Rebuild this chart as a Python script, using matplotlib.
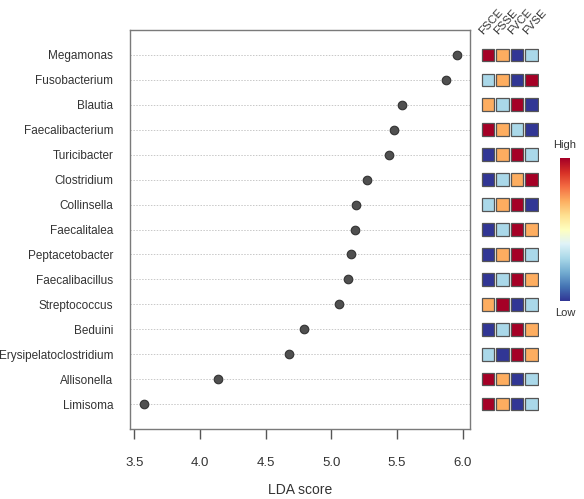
import numpy as np
import matplotlib
matplotlib.use("Agg")
import matplotlib.pyplot as plt
from matplotlib.patches import Rectangle

plt.rcParams['font.family'] = ['Liberation Sans', 'DejaVu Sans']

# taxa from top to bottom with their LDA scores
taxa = ['Megamonas', 'Fusobacterium', 'Blautia', 'Faecalibacterium',
        'Turicibacter', 'Clostridium', 'Collinsella', 'Faecalitalea',
        'Peptacetobacter', 'Faecalibacillus', 'Streptococcus', 'Beduini',
        'Erysipelatoclostridium', 'Allisonella', 'Limisoma']
lda = [5.96, 5.87, 5.54, 5.48, 5.44, 5.27, 5.19, 5.18,
       5.15, 5.13, 5.06, 4.79, 4.68, 4.14, 3.57]

groups = ['FSCE', 'FSSE', 'FVCE', 'FVSE']
# relative abundance level per group (0 = low, 1 = high)
fsce = [1.0, 0.3, 0.7, 1.0, 0.0, 0.0, 0.3, 0.0, 0.0, 0.0, 0.7, 0.0, 0.3, 1.0, 1.0]
fsse = [0.7, 0.7, 0.3, 0.7, 0.7, 0.3, 0.7, 0.3, 0.7, 0.3, 1.0, 0.3, 0.0, 0.7, 0.7]
fvce = [0.0, 0.0, 1.0, 0.3, 1.0, 0.7, 1.0, 1.0, 1.0, 1.0, 0.0, 1.0, 1.0, 0.0, 0.0]
fvse = [0.3, 1.0, 0.0, 0.0, 0.3, 1.0, 0.0, 0.7, 0.3, 0.7, 0.3, 0.7, 0.7, 0.3, 0.3]

W, H = 584, 499
fig = plt.figure(figsize=(W / 100, H / 100), dpi=100)


def px_axes(x0, y0, x1, y1):
    return fig.add_axes([x0 / W, 1 - y1 / H, (x1 - x0) / W, (y1 - y0) / H])


n = len(taxa)
ypos = np.arange(n, 0, -1)

# main dot plot
ax = px_axes(130, 30, 470, 429)
for y in ypos:
    ax.axhline(y, color='#c8c8c8', lw=0.7, ls=(0, (1.5, 1.5)), zorder=1)
ax.scatter(lda, ypos, s=38, color='#505050', edgecolor='#333333',
           linewidth=0.8, zorder=3)
ax.set_xlim(3.467, 6.056)
ax.set_ylim(0, 16)
ax.set_xticks([3.5, 4.0, 4.5, 5.0, 5.5, 6.0])
ax.set_xticklabels(['3.5', '4.0', '4.5', '5.0', '5.5', '6.0'])
ax.set_yticks(ypos)
ax.set_yticklabels(taxa)
ax.tick_params(axis='y', length=0, pad=12, labelsize=8.5, labelcolor='#333333')
ax.tick_params(axis='x', length=7.2, width=1, color='#555555', pad=13,
               labelsize=9.5, labelcolor='#333333')
for sp in ax.spines.values():
    sp.set_color('#7a7a7a')
    sp.set_linewidth(1.0)
ax.set_xlabel('LDA score', fontsize=10, color='#333333')
ax.xaxis.set_label_coords(0.5, -0.153)
ax.xaxis.label.set_va('center')

# abundance heatmap
cmap = plt.get_cmap('RdYlBu_r')
axh = px_axes(480.75, 30, 538.75, 429)
axh.set_xlim(0, 4)
axh.set_ylim(0, 16)
axh.axis('off')
cols = [fsce, fsse, fvce, fvse]
for j, vals in enumerate(cols):
    for y, v in zip(ypos, vals):
        axh.add_patch(Rectangle((j + 0.5 - 0.43, y - 0.255), 0.86, 0.51,
                                facecolor=cmap(v), edgecolor='#555555',
                                linewidth=0.9))
for j, g in enumerate(groups):
    fig.text((483 + j * 14.7) / W, 1 - 35 / H, g, rotation=48,
             rotation_mode='anchor', ha='left', va='baseline',
             fontsize=8.2, color='#333333')

# colour key
axc = px_axes(560, 158, 570, 301)
grad = np.linspace(1, 0, 256).reshape(-1, 1)
axc.imshow(grad, cmap=cmap, aspect='auto')
axc.axis('off')
fig.text(565 / W, 1 - 145 / H, 'High', ha='center', va='center',
         fontsize=8, color='#333333')
fig.text(565 / W, 1 - 313 / H, 'Low', ha='center', va='center',
         fontsize=8, color='#333333')

fig.savefig('out.png', dpi=100)
